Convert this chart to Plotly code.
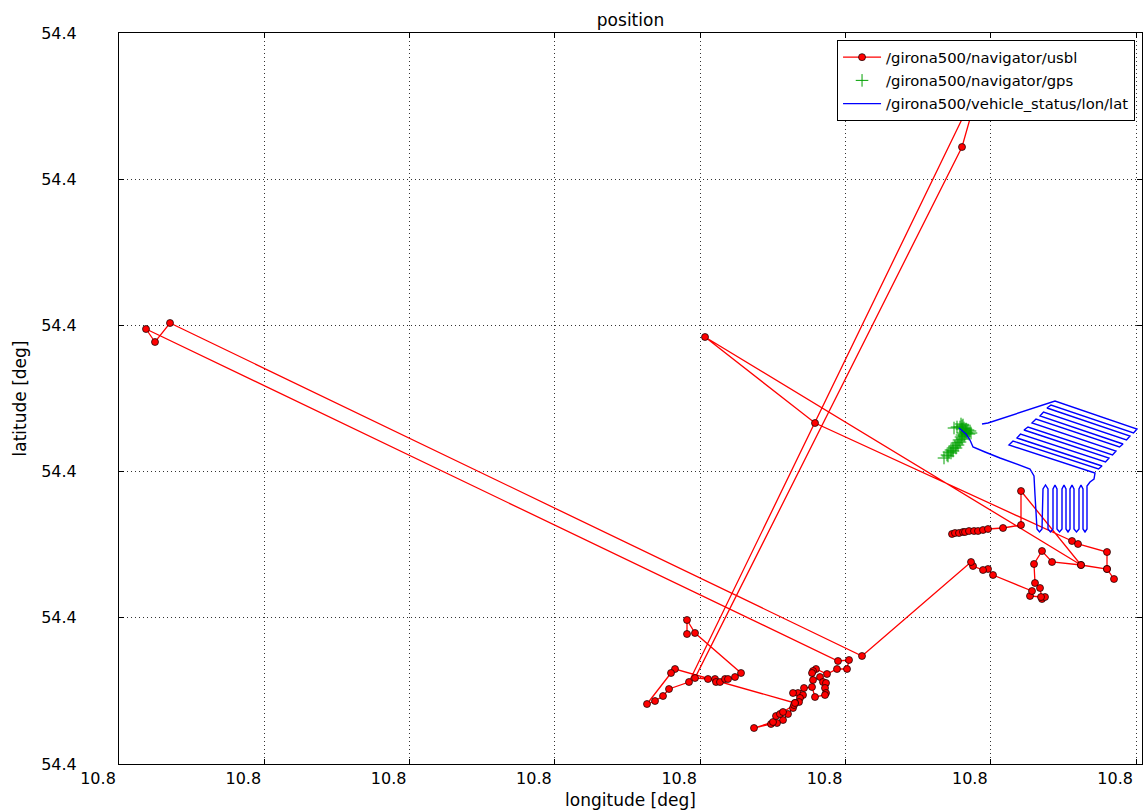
import plotly.graph_objects as go

# ---------------- data (degrees) ----------------
usbl_lon = [10.800833, 10.800836, 10.800840, 10.800844, 10.800846, 10.800850, 10.800855, 10.800859,
            10.800864, 10.800869, 10.800884, 10.800902, 10.800902, 10.800962, 10.800586, 10.800696,
            10.800953, 10.800959, 10.800988, 10.800988, 10.800995, 10.800988, 10.800962, 10.800933,
            10.800923, 10.800915, 10.800916, 10.800921, 10.800923, 10.800926, 10.800922, 10.800911,
            10.800913, 10.800874, 10.800869, 10.800864, 10.800854, 10.800852, 10.800743, 10.800051,
            10.800036, 10.800027, 10.800719, 10.800730, 10.800728, 10.800718, 10.800708, 10.800697,
            10.800694, 10.800693, 10.800694, 10.800701, 10.800704, 10.800707, 10.800706, 10.800707,
            10.800706, 10.800696, 10.800693, 10.800685, 10.800679, 10.800674, 10.800684, 10.800681,
            10.800680, 10.800676, 10.800674, 10.800669, 10.800664, 10.800658, 10.800652, 10.800635,
            10.800654, 10.800657, 10.800661, 10.800664, 10.800675, 10.800676, 10.800556, 10.800552,
            10.800528, 10.800536, 10.800544, 10.800550, 10.800570, 10.800862, 10.800843, 10.800576,
            10.800589, 10.800596, 10.800597, 10.800601, 10.800606, 10.800609, 10.800616, 10.800622,
            10.800576, 10.800568, 10.800568]
usbl_lat = [54.400230, 54.400231, 54.400231, 54.400232, 54.400232, 54.400233, 54.400233, 54.400233,
            54.400234, 54.400235, 54.400236, 54.400239, 54.400273, 54.400199, 54.400427, 54.400341,
            54.400223, 54.400220, 54.400212, 54.400195, 54.400185, 54.400195, 54.400199, 54.400202,
            54.400213, 54.400200, 54.400181, 54.400176, 54.400165, 54.400167, 54.400167, 54.400168,
            54.400173, 54.400189, 54.400195, 54.400194, 54.400198, 54.400202, 54.400108, 54.400441,
            54.400422, 54.400435, 54.400103, 54.400104, 54.400095, 54.400095, 54.400090, 54.400095,
            54.400093, 54.400091, 54.400084, 54.400087, 54.400082, 54.400081, 54.400076, 54.400071,
            54.400069, 54.400067, 54.400077, 54.400076, 54.400071, 54.400071, 54.400069, 54.400066,
            54.400062, 54.400061, 54.400056, 54.400050, 54.400044, 54.400041, 54.400040, 54.400036,
            54.400042, 54.400048, 54.400050, 54.400052, 54.400059, 54.400061, 54.400095, 54.400091,
            54.400060, 54.400063, 54.400068, 54.400075, 54.400082, 54.400684, 54.400617, 54.400086,
            54.400085, 54.400085, 54.400082, 54.400082, 54.400085, 54.400085, 54.400087, 54.400091,
            54.400131, 54.400144, 54.400130]

gps_lon = [10.800825, 10.800828, 10.800830, 10.800832, 10.800834, 10.800836, 10.800838, 10.800840,
           10.800842, 10.800843, 10.800844, 10.800829, 10.800832, 10.800834, 10.800837, 10.800839,
           10.800841, 10.800843, 10.800845, 10.800846, 10.800847, 10.800835, 10.800838, 10.800841,
           10.800843, 10.800845, 10.800847, 10.800849, 10.800851, 10.800852, 10.800850, 10.800848,
           10.800844, 10.800842, 10.800843, 10.800846]
gps_lat = [54.400306, 54.400309, 54.400312, 54.400314, 54.400316, 54.400318, 54.400321, 54.400324,
           54.400327, 54.400329, 54.400331, 54.400308, 54.400311, 54.400313, 54.400316, 54.400319,
           54.400322, 54.400325, 54.400328, 54.400330, 54.400332, 54.400336, 54.400337, 54.400337,
           54.400338, 54.400336, 54.400335, 54.400334, 54.400333, 54.400331, 54.400330, 54.400331,
           54.400339, 54.400340, 54.400335, 54.400333]

nav_lon = [10.800840, 10.800844, 10.800847, 10.800851, 10.800854, 10.800866, 10.800881, 10.800911,
           10.800915, 10.800916, 10.800917, 10.800918, 10.8009205, 10.800923, 10.800924, 10.8009265,
           10.800929, 10.800929, 10.8009315, 10.800934, 10.800934, 10.800936, 10.800938, 10.800938,
           10.8009405, 10.800943, 10.800943, 10.800945, 10.800947, 10.800947, 10.800949, 10.800951,
           10.800951, 10.800953, 10.800955, 10.800955, 10.8009575, 10.800960, 10.800960, 10.800962,
           10.800964, 10.800964, 10.800966, 10.800968, 10.800968, 10.800971, 10.800975, 10.800976,
           10.800890, 10.800894, 10.8009795, 10.800983, 10.800898, 10.8009015, 10.8009865, 10.800990,
           10.800905, 10.800909, 10.8009935, 10.800997, 10.800913, 10.800917, 10.8010005, 10.801004,
           10.800921, 10.8009245, 10.8010075, 10.801011, 10.800928, 10.800932, 10.8010145, 10.801018,
           10.800936, 10.800876, 10.800869, 10.800863]
nav_lat = [54.400336, 54.400333, 54.400330, 54.400324, 54.400317, 54.400312, 54.400306, 54.400295,
           54.400288, 54.400269, 54.400249, 54.400235, 54.400232, 54.400235, 54.400275, 54.400279,
           54.400275, 54.400235, 54.400232, 54.400235, 54.400275, 54.400279, 54.400275, 54.400235,
           54.400232, 54.400235, 54.400275, 54.400279, 54.400275, 54.400235, 54.400232, 54.400235,
           54.400275, 54.400279, 54.400275, 54.400235, 54.400232, 54.400235, 54.400275, 54.400279,
           54.400275, 54.400235, 54.400232, 54.400235, 54.400278, 54.400282, 54.400285, 54.400291,
           54.400319, 54.400323, 54.400295, 54.400298, 54.400326, 54.400330, 54.400302, 54.400306,
           54.400334, 54.400337, 54.400309, 54.400313, 54.400341, 54.400345, 54.400317, 54.400320,
           54.400348, 54.400352, 54.400324, 54.400328, 54.400356, 54.400359, 54.400331, 54.400335,
           54.400363, 54.400343, 54.400341, 54.400340]

x_tickvals = [10.8, 10.8001453, 10.8002906, 10.8004359, 10.8005812, 10.8007265, 10.8008718, 10.8010171]
x_ticktext = ["10.8", "10.8", "10.8", "10.8", "10.8", "10.8", "10.8", "10.8"]
y_tickvals = [54.4, 54.4001462, 54.4002924, 54.4004386, 54.4005848, 54.400731]
y_ticktext = ["54.4", "54.4", "54.4", "54.4", "54.4", "54.4"]
x_range = [10.8, 10.801023]
y_range = [54.4, 54.400731]

FONT = "DejaVu Sans"

fig = go.Figure()
fig.add_trace(go.Scatter(
    x=usbl_lon, y=usbl_lat, mode="lines+markers", name="/girona500/navigator/usbl",
    line=dict(color="#ff0000", width=1.3),
    marker=dict(color="#ff0000", size=7, line=dict(color="#000000", width=0.7)),
    legendgroup="a"))
fig.add_trace(go.Scatter(
    x=gps_lon, y=gps_lat, mode="markers", name="/girona500/navigator/gps",
    marker=dict(color="#00a000", size=9, symbol="cross-thin", line=dict(color="#00a000", width=1)),
    legendgroup="b"))
fig.add_trace(go.Scatter(
    x=nav_lon, y=nav_lat, mode="lines", name="/girona500/vehicle_status/lon/lat",
    line=dict(color="#0000ff", width=1.4), legendgroup="c"))

axis_common = dict(
    showline=True, linecolor="black", linewidth=1, mirror="ticks",
    ticks="inside", ticklen=5, tickcolor="black", tickwidth=1,
    showgrid=True, gridcolor="rgba(0,0,0,0.8)", griddash="1px,3px", gridwidth=1,
    zeroline=False, tickfont=dict(family=FONT, size=16, color="black"),
    title_font=dict(family=FONT, size=17, color="black"),
)

fig.update_layout(
    width=1145, height=810,
    margin=dict(l=119, r=3, t=33, b=46, autoexpand=False),
    paper_bgcolor="white", plot_bgcolor="white",
    font=dict(family=FONT, color="black"),
    title=dict(text="position", x=0.5, xref="paper", y=1 - 20 / 810, yref="container",
               yanchor="middle", font=dict(family=FONT, size=17, color="black")),
    xaxis=dict(range=x_range, tickvals=x_tickvals, ticktext=x_ticktext,
               title=dict(text="longitude [deg]", standoff=6), ticklabelshift=-21, **axis_common),
    yaxis=dict(range=y_range, tickvals=y_tickvals, ticktext=y_ticktext,
               title=dict(text="latitude [deg]", standoff=10), ticklabelstandoff=38, **axis_common),
    legend=dict(x=0.9932, xanchor="right", y=0.9904, yanchor="top",
                bgcolor="white", bordercolor="black", borderwidth=1, itemwidth=38,
                font=dict(family=FONT, size=14.8, color="black"), tracegroupgap=1),
    showlegend=True,
)

fig.write_html("out.html", config={"displayModeBar": False},
               post_script="document.body.style.margin='0';document.body.style.overflow='hidden';")
